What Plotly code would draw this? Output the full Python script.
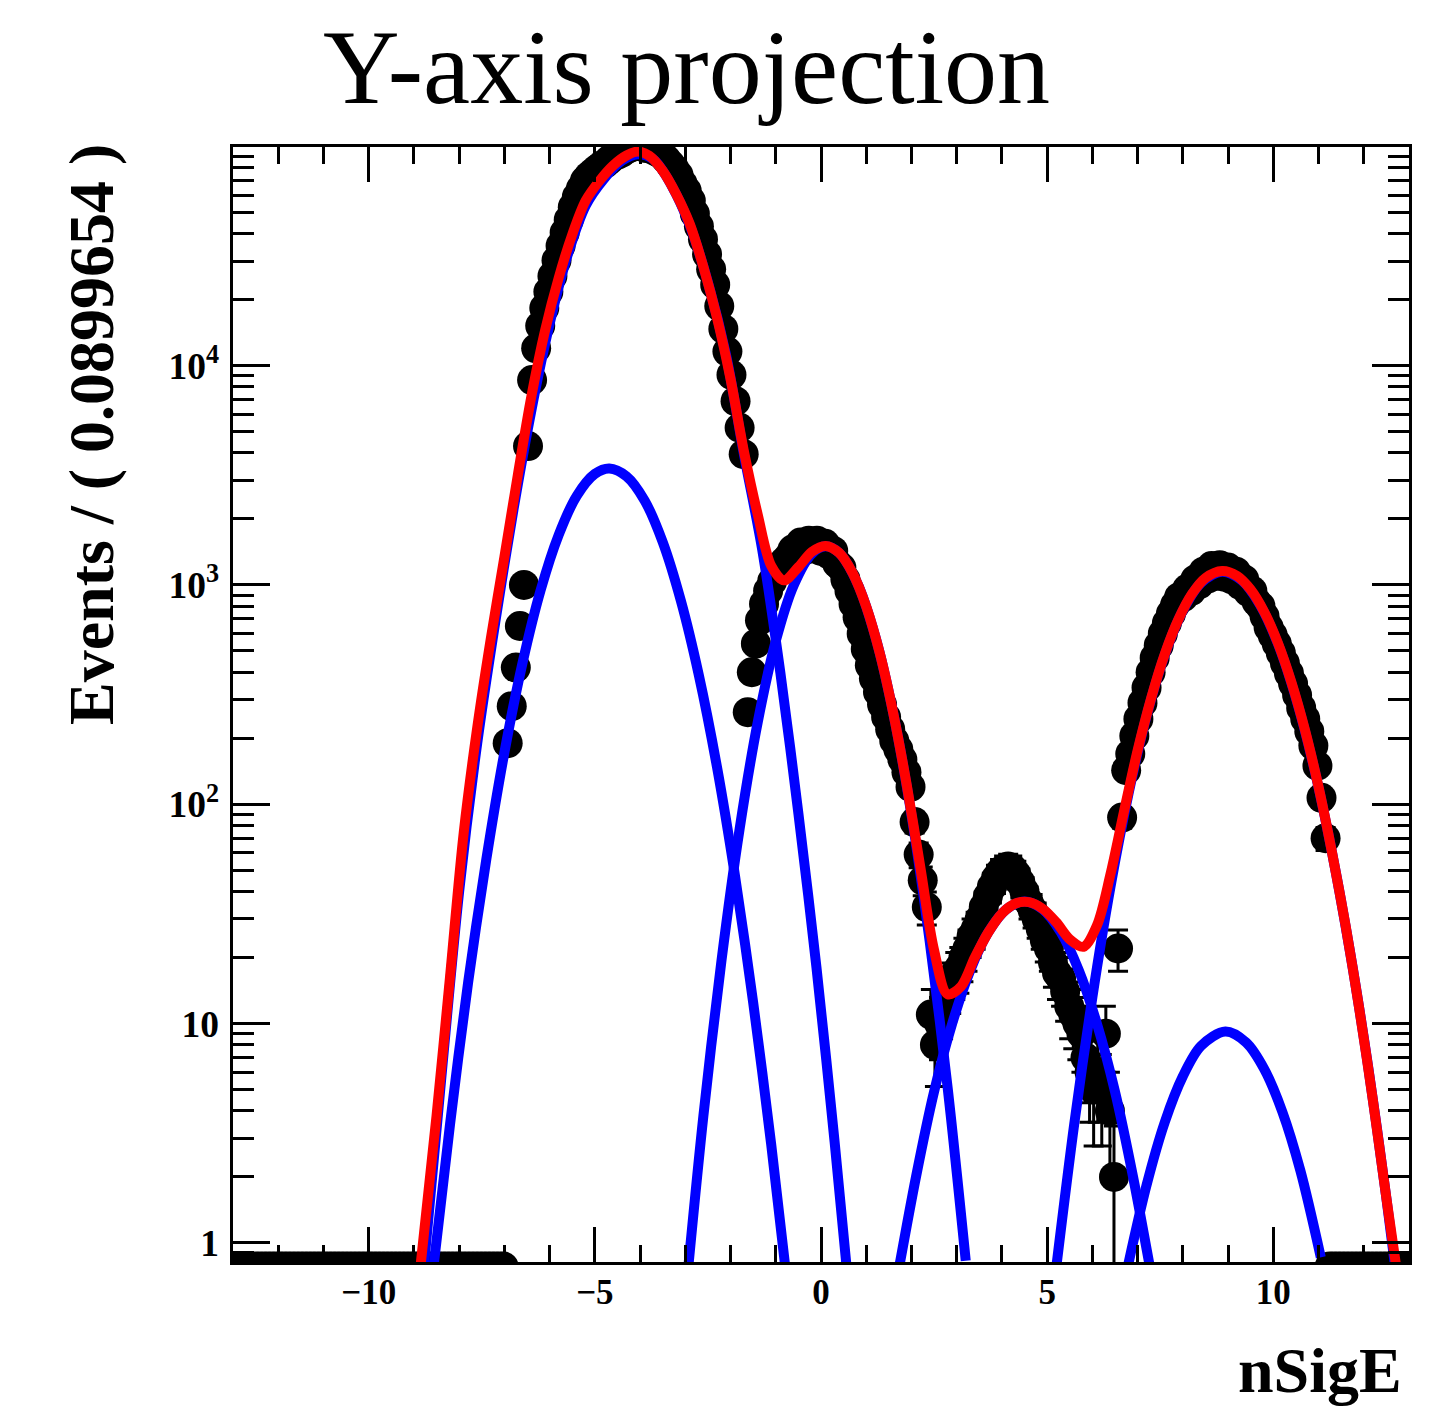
import numpy as np
import plotly.graph_objects as go

# ---------------- data ----------------
BIN_WIDTH = 0.0899654
X_LO, X_HI = -13.0, 13.0
N_BINS = 289

# event counts per bin (bins 0..66 and 269..288 are empty)
counts_nonzero = [
    # bins 67-71
    190, 280, 420, 650, 1000,
    # bins 72-125 : main peak
    4300, 8600, 12000, 15200, 18300, 21700, 25600, 30200, 35200, 40400,
    46200, 52800, 58900, 64100, 69800, 73300, 76000, 78900, 81500, 83600,
    86700, 89900, 91600, 93500, 96600, 98400, 100000, 101400, 99800, 98200,
    98200, 95900, 93800, 91400, 87100, 82800, 78700, 74000, 67500, 62700,
    56500, 49300, 43200, 37700, 32200, 27500, 23400, 18700, 14700, 11600,
    9080, 6890, 5210, 3950,
    # bins 126-145
    263, 400, 540, 690, 820, 940, 1040, 1130, 1210, 1280,
    1340, 1450, 1400, 1560, 1440, 1590, 1470, 1590, 1430, 1540,
    # bins 146-170
    1380, 1430, 1250, 1200, 1060, 940, 820, 710, 600, 510,
    430, 375, 325, 285, 250, 220, 195, 178, 160, 140,
    120, 83, 59, 45, 34,
    # bins 171-216
    11, 8, 10, 12, 14, 15, 17, 18, 20, 22,
    25, 27, 30, 34, 38, 42, 46, 49, 51, 52,
    51, 48, 44, 40, 36, 33, 30, 27, 24, 22,
    19, 17, 16, 14, 12, 11, 10, 9, 7, 6,
    5, 6, 5, 9, 4, 2,
    # bins 217-268
    22, 87, 143, 170, 205, 245, 290, 340, 400, 465,
    530, 600, 670, 740, 810, 880, 880, 960, 940, 1060,
    1010, 1150, 1070, 1220, 1100, 1230, 1090, 1200, 1060, 1150,
    1000, 1060, 930, 940, 840, 800, 720, 640, 590, 540,
    490, 440, 395, 355, 315, 275, 245, 215, 185, 150,
    107, 70,
]
counts = [0] * 67 + counts_nonzero + [0] * 20

# fit components (blue)
x_c1 = [-8.8, -8.4, -8.0, -7.6, -7.2, -6.8, -6.4, -6.0, -5.6, -5.2, -4.8, -4.4, -4.05,
        -3.7, -3.3, -2.9, -2.5, -2.1, -1.7, -1.3, -0.9, -0.5, -0.1, 0.3, 0.7]
y_c1 = [0.7, 5.5, 40, 190, 680, 2200, 6300, 15500, 32000, 53800, 71000, 86000, 92000,
        87000, 66000, 43600, 24000, 11200, 3900, 1450, 400, 91, 18, 2.9, 0.4]

x_c2 = [-8.6, -8.2, -7.8, -7.4, -7.0, -6.6, -6.2, -5.8, -5.4, -5.0, -4.68,
        -4.3, -3.9, -3.5, -3.1, -2.7, -2.3, -1.9, -1.5, -1.1, -0.8]
y_c2 = [0.68, 3.5, 15.5, 56, 172, 440, 944, 1690, 2550, 3210, 3400,
        3130, 2430, 1570, 850, 387, 148, 47, 12.5, 2.8, 0.81]

x_c3 = [-3.0, -2.6, -2.2, -1.8, -1.4, -1.0, -0.6, -0.2, 0.1, 0.4, 0.8, 1.2, 1.6, 2.0, 2.4, 2.8, 3.2]
y_c3 = [0.56, 3.8, 19.4, 77, 236, 555, 1000, 1390, 1500, 1400, 1023, 583, 259, 89.5, 24, 5.1, 0.83]

x_c4 = [1.7, 2.1, 2.5, 2.9, 3.3, 3.7, 4.1, 4.5, 4.9, 5.3, 5.7, 6.1, 6.5, 6.9, 7.3]
y_c4 = [0.72, 2.0, 4.9, 10.0, 17.5, 26.1, 33.2, 36, 33.2, 26.1, 17.5, 10.0, 4.9, 2.0, 0.72]

x_c5 = [6.8, 7.2, 7.6, 8.0, 8.4, 8.94, 9.4, 9.8, 10.2, 10.6, 11.05]
y_c5 = [0.81, 1.84, 3.55, 5.75, 7.9, 9.2, 8.2, 6.2, 3.96, 2.13, 0.86]

x_c6 = [5.2, 5.6, 6.0, 6.4, 6.8, 7.2, 7.6, 8.0, 8.4, 8.87, 9.3, 9.7, 10.1, 10.5,
        10.9, 11.3, 11.7, 12.1, 12.5, 12.7]
y_c6 = [0.77, 3.5, 13.2, 42, 112, 254, 480, 764, 1021, 1150, 1050, 816, 541, 305,
        147, 60, 21, 6.3, 1.6, 0.76]

# total fit (red)
x_tot = [-8.85, -8.5, -8.2, -7.9, -7.6, -7.3, -7.0, -6.7, -6.4, -6.1, -5.8, -5.5, -5.2,
         -4.9, -4.6, -4.3, -4.05, -3.8, -3.5, -3.2, -2.9, -2.6, -2.3, -2.0, -1.7, -1.4,
         -1.1, -0.82, -0.5, -0.2, 0.1, 0.4, 0.7, 1.0, 1.3, 1.6, 1.9, 2.2, 2.5, 2.8, 3.1,
         3.4, 3.7, 4.0, 4.3, 4.6, 4.9, 5.2, 5.5, 5.8, 6.1, 6.4, 6.7, 7.0, 7.3, 7.6, 7.9,
         8.2, 8.5, 8.87, 9.2, 9.5, 9.8, 10.1, 10.4, 10.7, 11.0, 11.3, 11.6, 11.9, 12.2,
         12.5, 12.75]
y_tot = [0.8, 3.8, 16.5, 74, 224, 570, 1340, 3200, 7300, 14500, 25100, 39600, 56700,
         69500, 81600, 90800, 94700, 90600, 77400, 60500, 44200, 28200, 16550, 8700, 4030,
         2100, 1222, 1050, 1206, 1417, 1507, 1402, 1132, 797, 488, 259, 121, 51, 21.6,
         13.6, 14.8, 20, 26.1, 31.8, 35.3, 35.8, 33.4, 29, 24.2, 22.4, 28, 48, 93, 176,
         305, 484, 695, 909, 1077, 1159, 1099, 952, 753, 545, 360, 218, 120, 60, 27.8,
         11.7, 4.5, 1.6, 0.7]

# ---------------- styling ----------------
BODY = 8                      # default page margin around the plot div
FIG_W, FIG_H = 1445 - BODY, 1408 - BODY
ML, MR, MT, MB = 225, 36, 139, 146
PLOT_W = FIG_W - ML - MR
PLOT_H = FIG_H - MT - MB
SERIF = "Liberation Serif, Times New Roman, serif"
ZERO_FLOOR = 0.78  # empty bins are drawn at the bottom edge (clipped), as ROOT does


def scr_to_paper_x(sx):
    return (sx - BODY - ML) / PLOT_W


def scr_to_paper_y(sy):
    return (FIG_H - MB - (sy - BODY)) / PLOT_H


centers = X_LO + BIN_WIDTH * (np.arange(N_BINS) + 0.5)
cnt = np.array(counts, dtype=float)
nz = cnt > 0
err = np.sqrt(cnt[nz])

fig = go.Figure()

# empty bins (clipped at the bottom edge)
fig.add_trace(go.Scatter(
    x=centers[~nz], y=np.full((~nz).sum(), ZERO_FLOOR), mode="markers",
    marker=dict(color="black", size=30), cliponaxis=True, hoverinfo="skip"))

# data points
fig.add_trace(go.Scatter(
    x=centers[nz], y=cnt[nz], mode="markers",
    marker=dict(color="black", size=30),
    error_y=dict(type="data", array=err, arrayminus=err, color="black",
                 thickness=3, width=10),
    cliponaxis=True))

blue = dict(color="#0000ff", width=10, shape="spline", smoothing=0.9)
for xs, ys in [(x_c1, y_c1), (x_c2, y_c2), (x_c3, y_c3), (x_c4, y_c4),
               (x_c5, y_c5), (x_c6, y_c6)]:
    fig.add_trace(go.Scatter(x=xs, y=ys, mode="lines", line=blue))

fig.add_trace(go.Scatter(x=x_tot, y=y_tot, mode="lines",
                         line=dict(color="#ff0000", width=10, shape="spline", smoothing=0.9)))

axis_common = dict(
    showline=True, linewidth=3, linecolor="black", mirror="allticks",
    ticks="inside", tickwidth=3, tickcolor="black",
    showgrid=False, zeroline=False, automargin=False,
)

fig.update_xaxes(
    range=[X_LO, X_HI], tick0=0, dtick=5, ticklen=35,
    tickfont=dict(family=SERIF, size=35, color="black", weight="bold"),
    ticklabelstandoff=-3,
    minor=dict(ticks="inside", ticklen=17, tickwidth=3, tickcolor="black", dtick=1, tick0=0),
    **axis_common)

fig.update_yaxes(
    type="log", range=[-0.087, 4.997], dtick=1, ticklen=37,
    exponentformat="power",
    tickfont=dict(family=SERIF, size=30, color="black", weight="bold"),
    ticklabelstandoff=5,
    minor=dict(ticks="inside", ticklen=21, tickwidth=3, tickcolor="black", dtick="D1"),
    **axis_common)

fig.update_layout(
    template="none",
    width=FIG_W, height=FIG_H,
    margin=dict(l=ML, r=MR, t=MT, b=MB),
    paper_bgcolor="white", plot_bgcolor="white",
    showlegend=False,
    annotations=[
        dict(text="Y-axis projection", xref="paper", yref="paper",
             x=scr_to_paper_x(686), y=scr_to_paper_y(67), xanchor="center", yanchor="middle",
             showarrow=False, font=dict(family=SERIF, size=106, color="black")),
        dict(text="Events / ( 0.0899654 )", xref="paper", yref="paper",
             x=scr_to_paper_x(91), y=scr_to_paper_y(435), xanchor="center", yanchor="middle",
             textangle=-90, showarrow=False,
             font=dict(family=SERIF, size=64, color="black", weight="bold")),
        dict(text="nSigE", xref="paper", yref="paper",
             x=scr_to_paper_x(1404), y=scr_to_paper_y(1370), xanchor="right", yanchor="middle",
             showarrow=False,
             font=dict(family=SERIF, size=64, color="black", weight="bold")),
    ],
)

fig.write_html("out.html")
